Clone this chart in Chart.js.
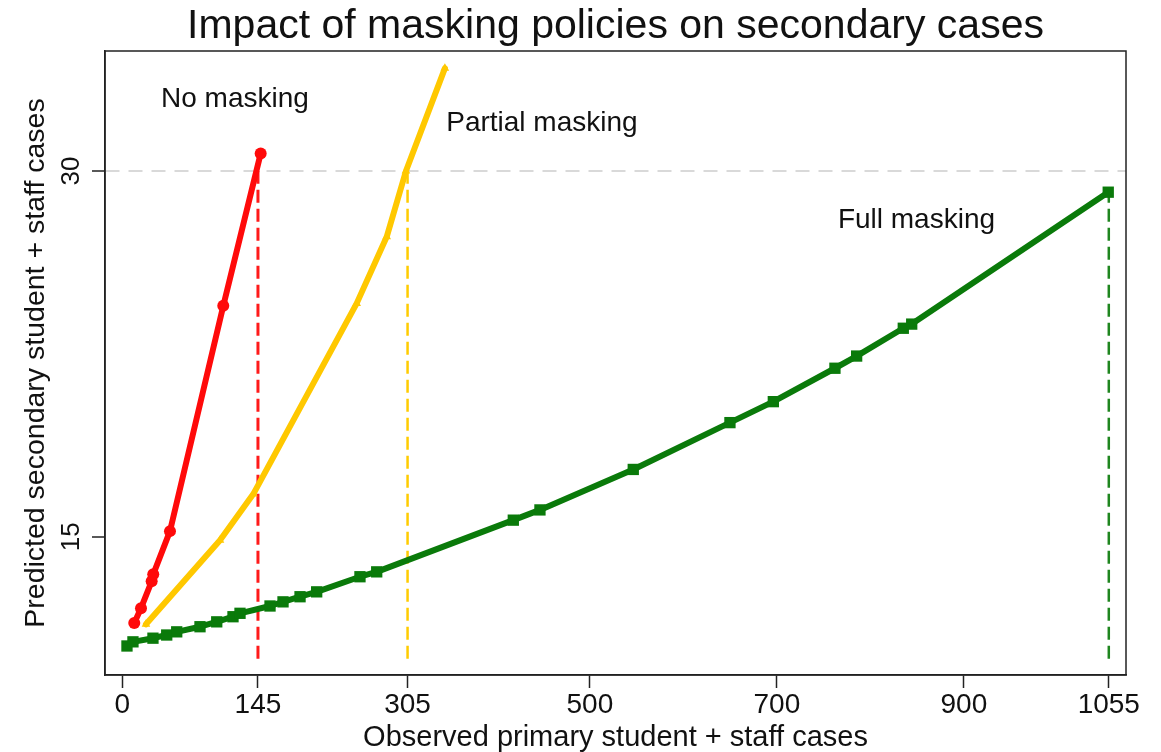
<!DOCTYPE html>
<html>
<head>
<meta charset="utf-8">
<title>Impact of masking policies on secondary cases</title>
<script src="https://cdn.jsdelivr.net/npm/chart.js@4.4.1/dist/chart.umd.min.js"></script>
<style>
  html, body { margin: 0; padding: 0; background: #ffffff; }
  canvas { display: block; }
</style>
</head>
<body>
<canvas id="chart" width="1161" height="752"></canvas>
<script>
const FONT = "'Liberation Sans', Arial, Helvetica, sans-serif";

// Observed primary student + staff cases (x) vs predicted secondary cases (y)
const noMaskX   = [12.7, 19.9, 31.3, 33.0, 50.9, 107.9, 147.9];
const noMaskY   = [11.46, 12.07, 13.17, 13.46, 15.23, 24.47, 30.72];

const partialX  = [25.2, 104.4, 140.0, 250.6, 282.7, 303.3, 344.9];
const partialY  = [11.41, 14.86, 16.75, 24.57, 27.30, 30.00, 34.21];

const fullX = [4.9, 11.3, 32.7, 47.4, 58.1, 83.0, 100.9, 118.3, 125.8, 157.9, 171.8,
               190.0, 207.8, 254.1, 272.0, 418.1, 446.6, 546.4, 649.8, 696.2, 762.1,
               785.3, 835.2, 844.2, 1054.4];
const fullY = [10.52, 10.69, 10.84, 10.97, 11.10, 11.31, 11.51, 11.72, 11.86, 12.16, 12.33,
               12.54, 12.74, 13.36, 13.56, 15.68, 16.10, 17.76, 19.68, 20.54, 21.91,
               22.41, 23.55, 23.72, 29.13];

// 30 secondary cases: the primary-case count at which each policy reaches it
const thresholdY = 30;
const dropX     = [145, 305, 1055];
const dropTopY  = [30, 30, 29.13];
const dropBaseY = 10;

// Axis ticks and extents
const xTicks = [0, 145, 305, 500, 700, 900, 1055];
const yTicks = [15, 30];
const xRange = [-18.6, 1073.4];
const yRange = [9.33, 34.92];

// Policy names placed inside the plot (data coordinates)
const policyNames = ['No masking', 'Partial masking', 'Full masking'];
const nameX = [120.4, 448.7, 849.3];
const nameY = [32.95, 31.97, 27.99];

const titleText  = 'Impact of masking policies on secondary cases';
const xAxisTitle = 'Observed primary student + staff cases';
const yAxisTitle = 'Predicted secondary student + staff cases';

const RED = '#ff0a0a', GOLD = '#ffc800', GREEN = '#0a7a0a';
const dropColors = ['#ff1a1a', '#ffcc00', '#1f861f'];

const zip = (xs, ys) => xs.map((x, i) => ({ x, y: ys[i] }));

const dropSets = dropX.map((x, i) => ({
  label: 'drop' + i,
  data: [{ x, y: dropBaseY }, { x, y: dropTopY[i] }],
  showLine: true,
  borderColor: dropColors[i],
  borderWidth: i === 0 ? 3 : 2.5,
  borderDash: [13, 6],
  pointRadius: 0,
  order: 10
}));

const curve = (label, xs, ys, color, style, radius, width, order) => ({
  label,
  data: zip(xs, ys),
  showLine: true,
  tension: 0,
  borderColor: color,
  backgroundColor: color,
  borderWidth: width,
  pointStyle: style,
  pointRadius: radius,
  pointBorderWidth: 0,
  pointBackgroundColor: color,
  borderJoinStyle: 'round',
  borderCapStyle: 'round',
  order
});

// frame, title, in-plot policy names and rotated y tick labels
const decorations = {
  id: 'decorations',
  afterDraw(chart) {
    const { ctx, chartArea: a, scales: { x, y } } = chart;
    ctx.save();
    ctx.strokeStyle = '#222';
    ctx.lineWidth = 1.5;
    ctx.strokeRect(a.left, a.top, a.right - a.left, a.bottom - a.top);

    ctx.fillStyle = '#111';
    ctx.textAlign = 'center';
    ctx.textBaseline = 'alphabetic';
    ctx.font = `41px ${FONT}`;
    ctx.fillText(titleText, (a.left + a.right) / 2, 38);

    ctx.font = `28px ${FONT}`;
    ctx.textBaseline = 'middle';
    policyNames.forEach((t, i) => {
      ctx.fillText(t, x.getPixelForValue(nameX[i]), y.getPixelForValue(nameY[i]));
    });

    ctx.font = `26px ${FONT}`;
    yTicks.forEach(v => {
      ctx.save();
      ctx.translate(72, y.getPixelForValue(v));
      ctx.rotate(-Math.PI / 2);
      ctx.fillText(String(v), 0, 0);
      ctx.restore();
    });
    ctx.restore();
  }
};

new Chart(document.getElementById('chart'), {
  type: 'scatter',
  data: {
    datasets: [
      curve('No masking', noMaskX, noMaskY, RED, 'circle', 6, 6, 1),
      curve('Partial masking', partialX, partialY, GOLD, 'triangle', 5, 6, 2),
      curve('Full masking', fullX, fullY, GREEN, 'rect', 8, 6, 3),
      ...dropSets
    ]
  },
  options: {
    responsive: false,
    animation: false,
    events: [],
    layout: { padding: { top: 51, right: 35, bottom: 0, left: 0 } },
    plugins: {
      legend: { display: false },
      tooltip: { enabled: false },
      title: { display: false }
    },
    scales: {
      x: {
        type: 'linear',
        min: xRange[0],
        max: xRange[1],
        afterBuildTicks: s => { s.ticks = xTicks.map(v => ({ value: v })); },
        afterFit: s => { s.height = 77; },
        ticks: {
          autoSkip: false,
          maxRotation: 0,
          padding: 0,
          color: '#111',
          font: { family: FONT, size: 28 },
          callback: v => String(v)
        },
        grid: {
          drawOnChartArea: false,
          drawTicks: true,
          tickLength: 13,
          tickColor: '#222',
          tickWidth: 1.5
        },
        border: { display: true, color: '#222', width: 1.5 },
        title: {
          display: true,
          text: xAxisTitle,
          color: '#111',
          font: { family: FONT, size: 29, lineHeight: 1 },
          padding: { top: 0, bottom: 0 }
        }
      },
      y: {
        type: 'linear',
        min: yRange[0],
        max: yRange[1],
        afterBuildTicks: s => { s.ticks = yTicks.map(v => ({ value: v })); },
        afterFit: s => { s.width = 105; },
        ticks: { display: false },
        grid: {
          drawOnChartArea: true,
          color: c => (c.tick && c.tick.value === thresholdY) ? '#d9d9d9' : 'rgba(0,0,0,0)',
          lineWidth: 2,
          drawTicks: true,
          tickLength: 13,
          tickColor: '#222',
          tickWidth: 1.5
        },
        border: { display: true, color: '#222', width: 1.5, dash: [14, 9] },
        title: {
          display: true,
          text: yAxisTitle,
          color: '#111',
          font: { family: FONT, size: 28.5, lineHeight: 1 },
          padding: { top: 22, bottom: 0 }
        }
      }
    }
  },
  plugins: [decorations]
});
</script>
</body>
</html>
